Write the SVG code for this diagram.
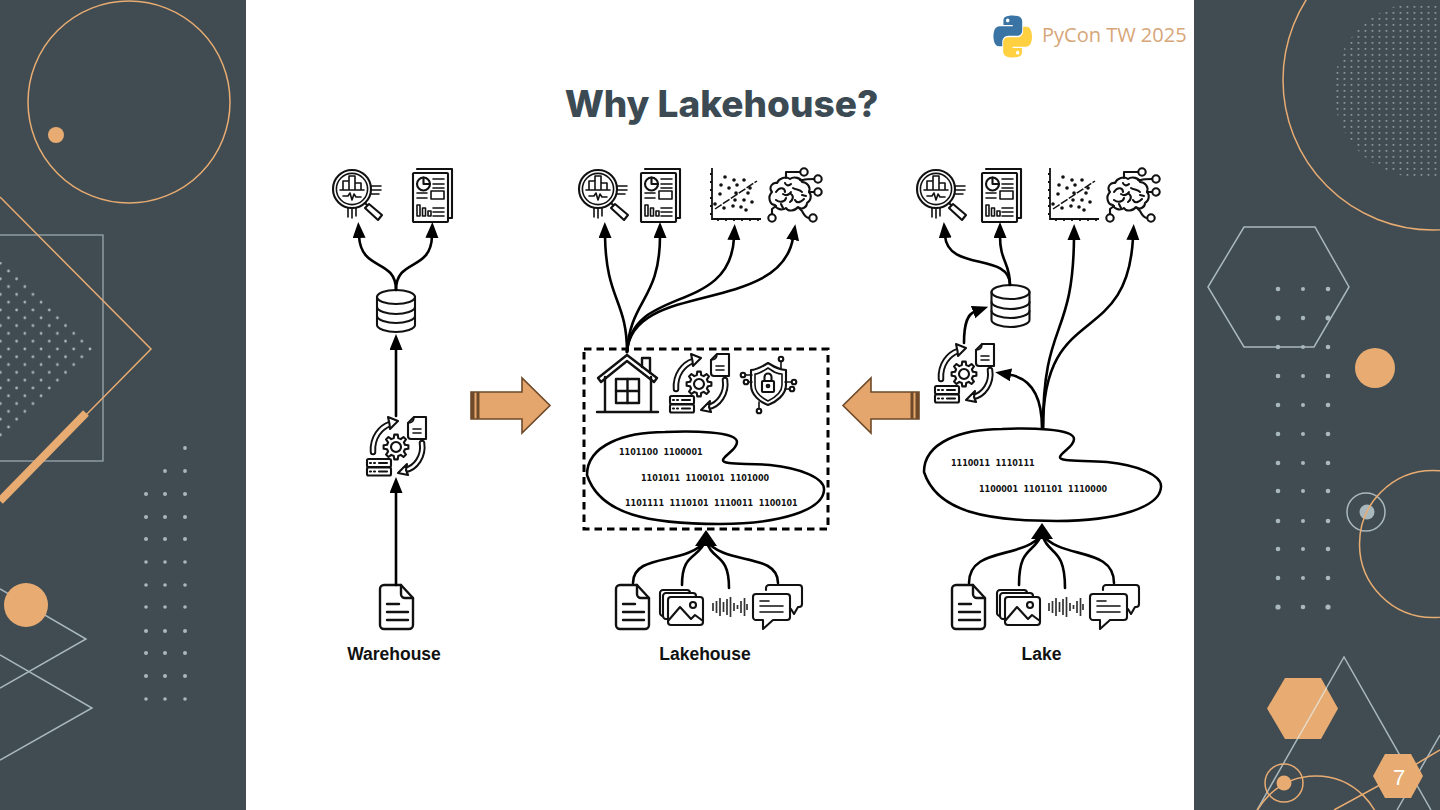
<svg xmlns="http://www.w3.org/2000/svg" width="1440" height="810" viewBox="0 0 1440 810">
<style>
.o{fill:none;stroke:#e8ac72;stroke-width:1.5}
.g{fill:none;stroke:#a9b8bc;stroke-width:1.5}
.ic{fill:none;stroke:#111;stroke-width:2.1;stroke-linecap:round;stroke-linejoin:round}
.t{stroke-width:1.6}
.c{fill:none;stroke:#000;stroke-width:2.6;stroke-linecap:round}
.d{fill:#a9b8bc}
.lbl{font:bold 17.5px "Liberation Sans",Arial,sans-serif;fill:#111;text-anchor:middle}
.bin{font:bold 8px "DejaVu Sans",sans-serif;fill:#111;word-spacing:2.8px}
.ar{fill:#e5a66d;stroke:#6e4a2a;stroke-width:1.6}
.st{fill:#6e4a2a}
</style>
<defs>
<marker id="ah" markerUnits="userSpaceOnUse" markerWidth="18" markerHeight="14" refX="2" refY="6.5" orient="auto"><path d="M0 0L16 6.5L0 13z" fill="#000"/></marker>
<pattern id="dm" patternUnits="userSpaceOnUse" x="90" y="349" width="16.3" height="15.6"><circle cx="0" cy="0" r="1.35" class="d"/><circle cx="16.3" cy="0" r="1.35" class="d"/><circle cx="0" cy="15.6" r="1.35" class="d"/><circle cx="16.3" cy="15.6" r="1.35" class="d"/><circle cx="8.15" cy="7.8" r="1.35" class="d"/></pattern>
<pattern id="tm" patternUnits="userSpaceOnUse" x="1334" y="4" width="7" height="6"><rect x="2.6" y="2.2" width="1.7" height="1.4" class="d" opacity="0.85"/></pattern>
<clipPath id="dc"><polygon points="94,349 8,262 -10,262 -10,437 8,437"/></clipPath>
<g id="mag" class="ic"><circle r="19"/><circle r="15.6" class="t"/><path d="M-9 1V-8H-3V1M-3 1V-13H3V1M3 1V-6H9V1M-12 1H12" class="t"/><path d="M-9 7H-4L-2 4L0 11L2 5L4 8H9" class="t"/><path d="M19 -3H29M20 1H29M19 5H27M-4 19V28M0 20V29M4 19V27" class="t"/><path d="M13 14L17 18"/><path d="M17 15L30 26L26 31L13 19Z" fill="#fff"/></g>
<g id="rep" class="ic"><path d="M4 -4H39V45H35"/><rect width="35" height="49" rx="1" fill="#fff"/><circle cx="10.5" cy="11" r="6.5"/><path d="M10.5 4.5V11H17"/><path d="M20 6H31M20 11H31M20 15H31M4 20H14M4 25H14M20 35H31M20 39H31M20 43H31" class="t"/><rect x="18" y="18" width="13" height="8" class="t"/><rect x="4" y="32" width="3" height="11" class="t"/><rect x="9.5" y="35" width="3" height="8" class="t"/><rect x="15" y="38" width="3" height="5" class="t"/></g>
<g id="sca"><path d="M0 0V51H49M-2 6H0M-2 14H0M-2 22H0M-2 30H0M-2 38H0M-2 46H0M6 51V53M14 51V53M22 51V53M30 51V53M38 51V53M46 51V53" fill="none" stroke="#111" stroke-width="1.8"/><path d="M3 41L45 13" fill="none" stroke="#111" stroke-width="1.5" stroke-dasharray="8 1.500"/><g fill="#111"><circle cx="13" cy="9" r="1.8"/><circle cx="22" cy="12" r="1.8"/><circle cx="32" cy="12" r="1.8"/><circle cx="9" cy="17" r="1.8"/><circle cx="17" cy="20" r="1.8"/><circle cx="25" cy="17" r="1.8"/><circle cx="38" cy="20" r="1.8"/><circle cx="8" cy="26" r="1.8"/><circle cx="24" cy="25" r="1.8"/><circle cx="36" cy="25" r="1.8"/><circle cx="23" cy="32" r="1.8"/><circle cx="32" cy="32" r="1.8"/><circle cx="40" cy="34" r="1.8"/><circle cx="12" cy="40" r="1.8"/><circle cx="21" cy="38" r="1.8"/><circle cx="29" cy="39" r="1.8"/><circle cx="34" cy="42" r="1.8"/><circle cx="3" cy="36" r="1.8"/></g></g>
<g id="bra" class="ic"><path d="M-16 -5C-20 -10 -15 -15 -11 -14C-9 -19 -2 -21 2 -18C6 -21 13 -19 14 -15C19 -15 23 -10 21 -5C24 -2 23 4 19 6C19 11 13 13 10 10C7 14 0 15 -2 11C-6 14 -12 12 -13 8C-18 8 -21 0 -16 -5Z"/><path d="M-12 -5C-8 -11 -3 -9 -3 -5M-3 -14C-2 -11 1 -11 3 -13M5 -9C8 -7 12 -8 14 -5M-12 3C-8 6 -3 5 -2 1M3 -3C6 -1 5 3 2 5M7 3C9 7 13 5 16 2M-5 -3C-2 -1 1 -2 3 -5M-7 7L-5 11M14 -2L18 -1"/><path d="M-2 -19V-25H12M12 -17H15C18 -18 20 -18 26 -18M21 -5H26M11 11L14 14C16 18 18 21 21 21M-12 9L-16 12V17"/><circle cx="16" cy="-25" r="3.7" fill="#fff"/><circle cx="30" cy="-18" r="3.7" fill="#fff"/><circle cx="30" cy="-5" r="3.7" fill="#fff"/><circle cx="25" cy="21" r="3.7" fill="#fff"/><circle cx="-16" cy="21" r="3.7" fill="#fff"/></g>
<g id="db" class="ic"><path d="M-19 -14V14C-19 18 -9 21 0 21C9 21 19 18 19 14V-14"/><ellipse cy="-14" rx="19" ry="7"/><path d="M-19 -4C-19 0 -9 3 0 3C9 3 19 0 19 -4M-19 5C-19 9 -9 12 0 12C9 12 19 9 19 5"/></g>
<g id="etl" class="ic"><polygon points="8.93,-2.23 12.38,-1.74 12.38,1.74 8.93,2.23 7.89,4.74 9.98,7.52 7.52,9.98 4.74,7.89 2.23,8.93 1.74,12.38 -1.74,12.38 -2.23,8.93 -4.74,7.89 -7.52,9.98 -9.98,7.52 -7.89,4.74 -8.93,2.23 -12.38,1.74 -12.38,-1.74 -8.93,-2.23 -7.89,-4.74 -9.98,-7.52 -7.52,-9.98 -4.74,-7.89 -2.23,-8.93 -1.74,-12.38 1.74,-12.38 2.23,-8.93 4.74,-7.89 7.52,-9.98 9.98,-7.52 7.89,-4.74"/><circle r="5"/><path d="M12 -24L18 -30H30V-8H15Q12 -8 12 -11Z"/><path d="M18 -30Q18 -24 12 -24M17 -18H25M17 -14H25" class="t"/><rect x="-29" y="12" width="24" height="8" rx="1.5"/><rect x="-29" y="20.5" width="24" height="8" rx="1.5"/><path d="M-26 16h1M-22 16h1M-26 24.5h1M-22 24.5h1M-17 16H-9M-17 24.5H-9"/><path d="M-23 5C-24 -10 -15 -20 -6 -23" stroke-width="6.500"/><path d="M-23 5C-24 -10 -15 -20 -6 -23" stroke="#fff" stroke-width="2.600"/><path d="M-8 -30L2 -26L-6 -18L-6.500 -23Z" fill="#fff"/><path d="M26 -4C28 9 20 21 9 23" stroke-width="6.500"/><path d="M26 -4C28 9 20 21 9 23" stroke="#fff" stroke-width="2.600"/><path d="M11 17L2 26L12 28L10 23Z" fill="#fff"/></g>
<g id="doc" class="ic" style="stroke-width:2.4"><path d="M4 0H21L33 13V40A4 4 0 0 1 29 44H4A4 4 0 0 1 0 40V4A4 4 0 0 1 4 0Z"/><path d="M21 0V9A4 4 0 0 0 25 13H33M7 19H19M7 27H28M7 35H28"/></g>
<g id="img" class="ic"><rect width="30" height="26" rx="3"/><rect x="3" y="3" width="33" height="26" rx="3" fill="#fff"/><rect x="8" y="7" width="35" height="28" rx="3" fill="#fff"/><path d="M8 31L20 17L31 29L35 25L43 31"/><circle cx="33" cy="15" r="3"/></g>
<g id="aud"><path d="M1 -4V4M4.500 -6V6M8 -9V9M11.500 -5V5M15 -8V8M18.500 -10V10M22 -4V4M25.500 -2V2M29 -6V6M32.500 -9V9M35 -3V3" fill="none" stroke="#333" stroke-width="1.700"/></g>
<g id="cha" class="ic"><path d="M13 5V3A3 3 0 0 1 16 0H46A3 3 0 0 1 49 3V19A3 3 0 0 1 46 22H45L41 29L38 24"/><path d="M3 9H34A3 3 0 0 1 37 12V32A3 3 0 0 1 34 35H20L10 44V35H3A3 3 0 0 1 0 32V12A3 3 0 0 1 3 9Z" fill="#fff"/><path d="M7 16H16M7 21H30M7 27H30" class="t"/></g>
<path id="blob" d="M587 475C587 445 625 432 665 432C690 431 737 431 737 442C737 450 724 455 723 460C722 465 745 463 770 465C800 468 825 478 824 490C823 510 780 524 720 524C650 524 600 515 587 475Z" fill="none" stroke="#000" stroke-width="2.500"/>
</defs>
<rect width="1440" height="810" fill="#fff"/>
<g id="left-panel">
<rect width="246" height="810" fill="#404c52"/>
<circle class="o" cx="129" cy="102" r="101"/>
<circle cx="56" cy="135" r="8" fill="#e8ac72"/>
<rect x="-2" y="235" width="105" height="226" class="g" style="stroke-width:1.1"/>
<rect x="0" y="260" width="96" height="180" fill="url(#dm)" clip-path="url(#dc)"/>
<path class="o" d="M0 197L151 349L85 416"/>
<path d="M86 413L0 501" fill="none" stroke="#e8ac72" stroke-width="8"/>
<path class="g" d="M0 589L86 639L0 688M0 655L92 708L0 760"/>
<circle cx="26" cy="605" r="22" fill="#e8ac72"/>
<g class="d">
<circle cx="185" cy="448" r="1.900"/><circle cx="165" cy="471" r="1.900"/><circle cx="185" cy="471" r="1.900"/>
<circle cx="146" cy="494" r="2"/><circle cx="165" cy="494" r="2"/><circle cx="185" cy="494" r="2"/>
<circle cx="146" cy="517" r="2"/><circle cx="165" cy="517" r="2"/><circle cx="185" cy="517" r="2"/>
<circle cx="146" cy="539" r="2"/><circle cx="165" cy="539" r="2"/><circle cx="185" cy="539" r="2"/>
<circle cx="146" cy="562" r="1.800"/><circle cx="165" cy="562" r="1.800"/><circle cx="185" cy="562" r="1.800"/>
<circle cx="146" cy="585" r="1.800"/><circle cx="165" cy="585" r="1.800"/><circle cx="185" cy="585" r="1.800"/>
<circle cx="146" cy="607" r="1.800"/><circle cx="165" cy="607" r="1.800"/><circle cx="185" cy="607" r="1.800"/>
<circle cx="146" cy="631" r="2"/><circle cx="165" cy="631" r="2"/><circle cx="185" cy="631" r="2"/>
<circle cx="146" cy="653" r="2"/><circle cx="165" cy="653" r="2"/><circle cx="185" cy="653" r="2"/>
<circle cx="146" cy="676" r="2"/><circle cx="165" cy="676" r="2"/><circle cx="185" cy="676" r="2"/>
<circle cx="146" cy="699" r="1.800"/><circle cx="165" cy="699" r="1.800"/><circle cx="185" cy="699" r="1.800"/>
</g>
</g>
<g id="right-panel">
<rect x="1194" width="246" height="810" fill="#404c52"/>
<circle class="o" cx="1433" cy="80" r="150"/>
<circle cx="1422" cy="90" r="88" fill="url(#tm)"/>
<polygon class="g" points="1208,287 1244,227 1315,227 1349,287 1314,347 1244,347"/>
<circle cx="1375" cy="368" r="20" fill="#e8ac72"/>
<circle class="g" cx="1366" cy="512" r="19"/>
<circle cx="1367" cy="512" r="7.500" class="d"/>
<circle class="o" cx="1433" cy="544" r="73.500"/>
<g class="d">
<circle cx="1278" cy="289" r="2.300"/><circle cx="1303" cy="289" r="2"/><circle cx="1328" cy="289" r="2.300"/>
<circle cx="1278" cy="318" r="2.500"/><circle cx="1303" cy="318" r="2.200"/><circle cx="1328" cy="318" r="2.500"/>
<circle cx="1278" cy="347" r="2.300"/><circle cx="1303" cy="347" r="2"/><circle cx="1328" cy="347" r="2.300"/>
<circle cx="1278" cy="376" r="2.300"/><circle cx="1303" cy="376" r="2"/><circle cx="1328" cy="376" r="2.300"/>
<circle cx="1278" cy="405" r="2.300"/><circle cx="1303" cy="405" r="2"/><circle cx="1328" cy="405" r="2.300"/>
<circle cx="1278" cy="434" r="2.300"/><circle cx="1303" cy="434" r="2"/><circle cx="1328" cy="434" r="2.300"/>
<circle cx="1278" cy="463" r="2.300"/><circle cx="1303" cy="463" r="2"/><circle cx="1328" cy="463" r="2.300"/>
<circle cx="1278" cy="491" r="2.300"/><circle cx="1303" cy="491" r="2"/><circle cx="1328" cy="491" r="2.300"/>
<circle cx="1278" cy="521" r="2.300"/><circle cx="1303" cy="521" r="2"/><circle cx="1328" cy="521" r="2.300"/>
<circle cx="1278" cy="549" r="2.300"/><circle cx="1303" cy="549" r="2"/><circle cx="1328" cy="549" r="2.300"/>
<circle cx="1278" cy="578" r="2.300"/><circle cx="1303" cy="578" r="2"/><circle cx="1328" cy="578" r="2.300"/>
<circle cx="1278" cy="607" r="2.600"/><circle cx="1303" cy="607" r="2.300"/><circle cx="1328" cy="607" r="2.600"/>
</g>
<polygon points="1267,708.500 1285,678 1321,678 1338,708.500 1321,739 1285,739" fill="#e8ac72"/>
<path class="g" d="M1257 810L1344 657L1431 810M1440 735L1397 810"/>
<path d="M1326.600 688L1297.400 739" stroke="#f6d9b8" stroke-width="1.500"/>
<circle class="o" cx="1316" cy="843" r="67"/>
<circle class="o" cx="1284" cy="783" r="19"/>
<circle cx="1284" cy="783" r="7.500" fill="#e8ac72"/>
<path class="o" d="M1334 810L1378 786Q1410 768 1440 750"/>
<polygon points="1373,776 1385,754 1411,754 1423,776 1411,798 1385,798" fill="#e8ac72"/>
<text x="1399" y="785" font-family="Liberation Sans, Arial, sans-serif" font-size="22" fill="#fff" text-anchor="middle">7</text>
</g>
<g id="header">
<g transform="translate(993,15.500) scale(0.36,0.38)">
<path fill="#3a74a5" fill-rule="evenodd" d="M54.900 0C50.300 0 46 .4 42.200 1.100C31 3.100 29 7.200 29 14.900V25H55V28.400H29H19.200C11.600 28.400 5 33 2.900 41.600C.5 51.500 .4 57.700 2.900 68C4.700 75.700 9.200 81.200 16.800 81.200H25.800V69.300C25.800 60.700 33.200 53.100 42.100 53.100H68.100C75.300 53.100 81.100 47.100 81.100 39.900V14.900C81.100 7.900 75.200 2.600 68.100 1.400C63.600 .6 59 0 54.900 0ZM40.800 8C43.500 8 45.700 10.200 45.700 12.900C45.700 15.600 43.500 17.800 40.800 17.800C38.100 17.800 36 15.600 36 12.900C36 10.200 38.200 8 40.800 8Z"/>
<path fill="#ffd03f" fill-rule="evenodd" transform="rotate(180 54.700 55.300)" d="M54.900 0C50.300 0 46 .4 42.200 1.100C31 3.100 29 7.200 29 14.900V25H55V28.400H29H19.200C11.600 28.400 5 33 2.900 41.600C.5 51.500 .4 57.700 2.900 68C4.700 75.700 9.200 81.200 16.800 81.200H25.800V69.300C25.800 60.700 33.200 53.100 42.100 53.100H68.100C75.300 53.100 81.100 47.100 81.100 39.900V14.900C81.100 7.900 75.200 2.600 68.100 1.400C63.600 .6 59 0 54.900 0ZM40.800 8C43.500 8 45.700 10.200 45.700 12.900C45.700 15.600 43.500 17.800 40.800 17.800C38.100 17.800 36 15.600 36 12.900C36 10.200 38.200 8 40.800 8Z"/>
</g>
<text x="1042" y="42" font-family="Open Sans, sans-serif" font-size="20" fill="#d7a678">PyCon TW 2025</text>
<text x="721.500" y="117" font-family="Inter, sans-serif" font-weight="800" font-size="37" fill="#3c4b53" text-anchor="middle">Why Lakehouse?</text>
</g>
<g id="block-arrows">
<g id="arrow-right"><path class="ar" d="M471 392H522V378L550 405.500L522 433V419H471Z"/><rect class="st" x="471" y="392" width="3.500" height="27"/><rect class="st" x="476.500" y="392" width="3" height="27"/></g>
<g id="arrow-left"><path class="ar" d="M919 392H871V378L843 405.500L871 433V419H919Z"/><rect class="st" x="915.500" y="392" width="3.500" height="27"/><rect class="st" x="910.500" y="392" width="3" height="27"/></g>
</g>
<g id="node-warehouse">
<use href="#mag" x="352" y="189"/><use href="#rep" x="413" y="173"/><use href="#db" x="396" y="311"/><use href="#etl" x="396" y="447"/><use href="#doc" x="380" y="585"/>
<text class="lbl" x="394" y="659.500">Warehouse</text>
</g>
<g id="node-lakehouse">
<use href="#mag" x="598" y="189"/><use href="#rep" x="641" y="173"/><use href="#sca" x="712" y="168"/><use href="#bra" x="788" y="197"/>
<rect x="584" y="349" width="244" height="180" fill="none" stroke="#000" stroke-width="3" stroke-dasharray="7.500 5"/>
<g id="house" class="ic" style="stroke-width:2.400"><path d="M598 378L627 355L657 378L654 382L627 361L601 382Z"/><path d="M642 367V358H650V373"/><path d="M605 377V412M651 377V412M597 412H658"/><rect x="616" y="379" width="23" height="24"/><path d="M627.500 379V403M616 391H639"/></g>
<use href="#etl" x="699" y="384"/>
<g id="shield" class="ic"><path d="M768 363C760 368 756 370 751 370V385C751 395 760 402 768 405C776 402 786 395 786 385V370C780 370 776 368 768 363Z"/><path d="M768 368C762 372 759 374 755 374V385C755 393 762 398 768 401C774 398 782 393 782 385V374C777 374 774 372 768 368Z" class="t"/><rect x="762" y="381" width="12" height="11" rx="1"/><path d="M764.500 381V377A3.500 3.500 0 0 1 771.500 377V381"/><circle cx="768" cy="386" r="1.300"/><path d="M781 362V368M746 375H752M749 382H752M785 382H791M785 389H789M759 408V402" class="t"/><circle cx="781" cy="359" r="2.300"/><circle cx="743" cy="375" r="2.300"/><circle cx="746" cy="382" r="2.300"/><circle cx="794" cy="382" r="2.300"/><circle cx="792" cy="389" r="2.300"/><circle cx="759" cy="411" r="2.300"/></g>
<use href="#blob"/>
<text class="bin" x="619" y="455">1101100 1100001</text>
<text class="bin" x="641" y="481">1101011 1100101 1101000</text>
<text class="bin" x="625" y="506">1101111 1110101 1110011 1100101</text>
<use href="#doc" x="616" y="585"/><use href="#img" x="660" y="590"/><use href="#aud" x="712" y="607"/><use href="#cha" x="753" y="585"/>
<text class="lbl" x="705" y="659.500">Lakehouse</text>
</g>
<g id="node-lake">
<use href="#mag" x="936" y="189"/><use href="#rep" x="982" y="173"/><use href="#sca" x="1050" y="168"/><use href="#bra" x="1126" y="197"/>
<use href="#db" x="1010.500" y="306"/><use href="#etl" x="964" y="374"/>
<use href="#blob" x="337" y="-3"/>
<text class="bin" x="951" y="466">1110011 1110111</text>
<text class="bin" x="979" y="492">1100001 1101101 1110000</text>
<use href="#doc" x="952" y="585"/><use href="#img" x="997" y="590"/><use href="#aud" x="1048" y="607"/><use href="#cha" x="1090" y="585"/>
<text class="lbl" x="1041.500" y="659.500">Lake</text>
</g>
<g id="connectors">
<path class="c" marker-end="url(#ah)" d="M396 585V491"/>
<path class="c" marker-end="url(#ah)" d="M396 416V348"/>
<path class="c" marker-end="url(#ah)" d="M396 290C396 258 361 272 359 236"/>
<path class="c" marker-end="url(#ah)" d="M396 290C396 258 431 272 432 236"/>
<path class="c" marker-end="url(#ah)" d="M627 352C627 300 606 300 605 236"/>
<path class="c" marker-end="url(#ah)" d="M627 352C630 300 660 300 660 236"/>
<path class="c" marker-end="url(#ah)" d="M627 352C632 285 730 315 734 238"/>
<path class="c" marker-end="url(#ah)" d="M627 352C632 280 780 315 793 238"/>
<path class="c" marker-end="url(#ah)" d="M1042 428C1042 395 1030 378 1009 374.500"/>
<path class="c" marker-end="url(#ah)" d="M1043 428C1043 320 1073 340 1074 238"/>
<path class="c" marker-end="url(#ah)" d="M1043 428C1043 300 1127 350 1133 238"/>
<path class="c" marker-end="url(#ah)" d="M964 343C964 322 968 314 975 311.500"/>
<path class="c" marker-end="url(#ah)" d="M1010 285C1010 252 948 272 945 236"/>
<path class="c" marker-end="url(#ah)" d="M1010 285C1010 262 1000 262 1000 236"/>
<path class="c" d="M633 583C633 552 688 566 706 540M682 585C682 552 698 560 706 540M729 588C729 552 712 562 706 540M778 583C778 552 724 566 706 540"/>
<path d="M706 530L717 546H695Z" fill="#000"/>
<path class="c" d="M969 583C969 546 1024 560 1042 534M1019 585C1019 546 1034 554 1042 534M1065 588C1065 546 1048 556 1042 534M1114 583C1114 546 1060 560 1042 534"/>
<path d="M1042 523L1053 539H1031Z" fill="#000"/>
</g>
</svg>
